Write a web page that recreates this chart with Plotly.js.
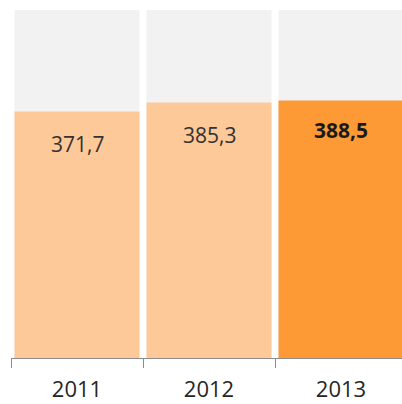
<!DOCTYPE html>
<html>
<head>
<meta charset="utf-8">
<script src="https://cdn.plot.ly/plotly-3.0.1.min.js"></script>
<style>html,body{margin:0;padding:0;background:#fff;}#chart{width:402px;height:404px;}</style>
</head>
<body>
<div id="chart"></div>
<script>
const years = ['2011', '2012', '2013'];
const values = [371.7, 385.3, 388.5];
const backgroundMax = [525, 525, 525];
const barColors = ['#FDC998', '#FDC998', '#FD9A36'];
const labelBold = [false, false, true];

const fmt = v => v.toFixed(1).replace('.', ',');

const traces = [
  {type: 'bar', x: years, y: backgroundMax, marker: {color: '#F2F2F2'}, hoverinfo: 'skip', showlegend: false},
  {type: 'bar', x: years, y: values, marker: {color: barColors}, hoverinfo: 'skip', showlegend: false}
];

const annotations = years.map((yr, i) => ({
  x: i, y: values[i], xref: 'x', yref: 'y',
  text: labelBold[i] ? '<b>' + fmt(values[i]) + '</b>' : fmt(values[i]),
  showarrow: false, xanchor: 'center', yanchor: 'middle', yshift: labelBold[i] ? -30 : -32,
  font: {family: 'Open Sans, sans-serif', size: 21, color: labelBold[i] ? '#1a1a1a' : '#333333'}
}));

const layout = {
  width: 402, height: 404,
  margin: {l: 11, r: 0, t: 10, b: 46},
  paper_bgcolor: '#ffffff', plot_bgcolor: '#ffffff',
  barmode: 'overlay', bargap: 0.053,
  showlegend: false,
  xaxis: {
    type: 'category', range: [-0.5, 2.462],
    tickson: 'boundaries', ticks: 'outside', ticklen: 9, tickcolor: '#8c8c8c', tickwidth: 1,
    showline: true, linecolor: '#8c8c8c', linewidth: 1,
    showgrid: false, zeroline: false,
    tickfont: {family: 'Open Sans, sans-serif', size: 22, color: '#262626'},
    ticklabelstandoff: 12
  },
  yaxis: {range: [0, 525], showticklabels: false, ticks: '', showline: false, showgrid: false, zeroline: false},
  annotations: annotations
};

Plotly.newPlot('chart', traces, layout, {displayModeBar: false, staticPlot: true});
</script>
</body>
</html>
